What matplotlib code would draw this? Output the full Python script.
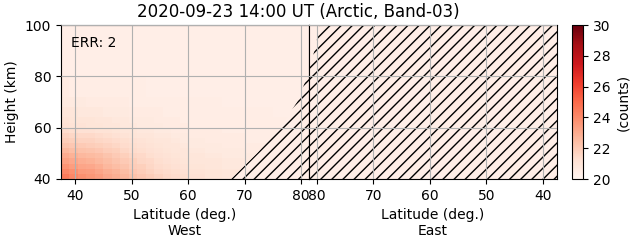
import numpy as np
import matplotlib
matplotlib.use("Agg")
import matplotlib.pyplot as plt
from matplotlib.patches import Polygon

# grid of the West panel (bin edges)
lat_edges = [37.5, 39, 40.5, 42, 43.5, 45, 46.5, 48, 49.5, 51, 52.5, 54, 55.5, 57, 58.5, 60,
             63, 66, 70, 75, 81.5]
height_edges = [40, 42, 44, 46, 48, 50, 52, 54, 56, 58, 60, 62, 64, 68, 72, 80, 100]

# counts, rows = height bins (bottom -> top), cols = latitude bins
counts = np.array([
    [24.5, 24.1, 23.8, 23.6, 23.4, 23.1, 22.9, 22.6, 22.3, 22.1, 21.9, 21.7, 21.5, 21.4, 21.3, 21.2, 21.0, 20.9, 20.8, 20.7],
    [24.1, 23.8, 23.5, 23.4, 23.2, 22.9, 22.7, 22.4, 22.1, 21.9, 21.7, 21.5, 21.4, 21.3, 21.2, 21.1, 21.0, 20.9, 20.8, 20.7],
    [23.7, 23.4, 23.2, 23.1, 22.9, 22.6, 22.4, 22.2, 21.9, 21.8, 21.6, 21.4, 21.3, 21.2, 21.1, 21.0, 20.9, 20.8, 20.7, 20.6],
    [23.3, 23.1, 22.9, 22.8, 22.6, 22.4, 22.2, 22.0, 21.8, 21.6, 21.5, 21.3, 21.2, 21.1, 21.0, 20.9, 20.9, 20.8, 20.7, 20.6],
    [23.0, 22.8, 22.6, 22.5, 22.4, 22.2, 22.0, 21.8, 21.6, 21.5, 21.3, 21.2, 21.1, 21.0, 20.9, 20.9, 20.8, 20.7, 20.7, 20.6],
    [22.6, 22.4, 22.3, 22.2, 22.1, 21.9, 21.8, 21.6, 21.4, 21.3, 21.2, 21.1, 21.0, 20.9, 20.9, 20.8, 20.7, 20.7, 20.6, 20.5],
    [22.2, 22.1, 22.0, 21.9, 21.8, 21.7, 21.6, 21.4, 21.3, 21.2, 21.1, 21.0, 20.9, 20.9, 20.8, 20.7, 20.7, 20.6, 20.6, 20.5],
    [21.9, 21.8, 21.7, 21.7, 21.6, 21.5, 21.4, 21.3, 21.2, 21.1, 21.0, 20.9, 20.9, 20.8, 20.7, 20.7, 20.6, 20.6, 20.5, 20.5],
    [21.7, 21.6, 21.5, 21.5, 21.4, 21.3, 21.2, 21.1, 21.0, 20.9, 20.9, 20.8, 20.8, 20.7, 20.7, 20.6, 20.6, 20.6, 20.5, 20.5],
    [21.4, 21.3, 21.2, 21.2, 21.1, 21.1, 21.0, 20.9, 20.9, 20.8, 20.8, 20.7, 20.7, 20.6, 20.6, 20.6, 20.6, 20.5, 20.5, 20.5],
    [21.2, 21.1, 21.1, 21.0, 21.0, 20.9, 20.9, 20.8, 20.8, 20.7, 20.7, 20.7, 20.6, 20.6, 20.6, 20.5, 20.5, 20.5, 20.5, 20.5],
    [21.1, 21.0, 21.0, 21.0, 20.9, 20.9, 20.8, 20.8, 20.7, 20.7, 20.7, 20.6, 20.6, 20.6, 20.5, 20.5, 20.5, 20.5, 20.5, 20.5],
    [20.9, 20.9, 20.8, 20.8, 20.8, 20.7, 20.7, 20.7, 20.6, 20.6, 20.6, 20.6, 20.5, 20.5, 20.5, 20.5, 20.5, 20.5, 20.5, 20.4],
    [20.7, 20.7, 20.7, 20.6, 20.6, 20.6, 20.6, 20.6, 20.5, 20.5, 20.5, 20.5, 20.5, 20.5, 20.5, 20.5, 20.5, 20.4, 20.4, 20.4],
    [20.6, 20.5, 20.5, 20.5, 20.5, 20.5, 20.5, 20.5, 20.5, 20.5, 20.4, 20.4, 20.4, 20.4, 20.4, 20.4, 20.4, 20.4, 20.4, 20.4],
    [20.4, 20.4, 20.4, 20.4, 20.4, 20.4, 20.4, 20.4, 20.4, 20.4, 20.4, 20.4, 20.4, 20.4, 20.4, 20.4, 20.4, 20.4, 20.4, 20.4],
])

# edge of the no-data (hatched) region
west_nodata_lat = [67.6, 72.2, 76.3, 79.3, 81.1, 81.5]
west_nodata_height = [40, 50, 60, 70, 80, 82]
east_nodata_lat = [81.5, 80.3, 79.5]
east_nodata_height = [82, 91, 100]

lat_ticks = [40, 50, 60, 70, 80]
height_ticks = [40, 60, 80, 100]
cbar_ticks = [20, 22, 24, 26, 28, 30]

cmap = plt.get_cmap("Reds")
bg = cmap(0.04)

fig = plt.figure(figsize=(6.31, 2.43), dpi=100)
ax1 = fig.add_axes([61 / 631, 1 - 179 / 243, 248 / 631, 154 / 243])
ax2 = fig.add_axes([309 / 631, 1 - 179 / 243, 248 / 631, 154 / 243])
cax = fig.add_axes([572 / 631, 1 - 179 / 243, 11 / 631, 154 / 243])

# West panel
mesh = ax1.pcolormesh(lat_edges, height_edges, counts, cmap=cmap, vmin=20, vmax=30, zorder=1)
west_poly = [(west_nodata_lat[0], 30)] + list(zip(west_nodata_lat, west_nodata_height)) + [(90, 82), (90, 30)]
ax1.add_patch(Polygon(west_poly, closed=True, facecolor=bg,
                      edgecolor="black", hatch="///", linewidth=0, zorder=2))
ax1.set_xlim(37.5, 81.4)
ax1.set_ylim(40, 100)
ax1.set_xticks(lat_ticks)
ax1.set_yticks(height_ticks)
ax1.set_xlabel("Latitude (deg.)\nWest")
ax1.set_ylabel("Height (km)")
ax1.grid(True, color="#b0b0b0", zorder=3)
ax1.set_axisbelow(False)
ax1.text(0.04, 0.93, "ERR: 2", transform=ax1.transAxes, va="top", ha="left", fontsize=10)

# East panel (almost all no-data)
ax2.set_facecolor(bg)
east_poly = [(30, 30), (30, 110), (east_nodata_lat[2], 110)] + \
    list(zip(east_nodata_lat[::-1], east_nodata_height[::-1])) + [(90, 82), (90, 30)]
ax2.add_patch(Polygon(east_poly, closed=True, facecolor=bg, edgecolor="black",
                      hatch="///", linewidth=0, zorder=2))
ax2.set_xlim(81.4, 37.5)
ax2.set_ylim(40, 100)
ax2.set_xticks(lat_ticks)
ax2.set_yticks(height_ticks)
ax2.tick_params(left=False, labelleft=False)
ax2.set_xlabel("Latitude (deg.)\nEast")
ax2.grid(True, color="#b0b0b0", zorder=3)
ax2.set_axisbelow(False)

cb = fig.colorbar(mesh, cax=cax)
cb.set_ticks(cbar_ticks)
cb.set_label("(counts)")

fig.text(298 / 631, 1 - 12 / 243, "2020-09-23 14:00 UT (Arctic, Band-03)",
         ha="center", va="center", fontsize=12)

fig.savefig("out.png", dpi=100)
